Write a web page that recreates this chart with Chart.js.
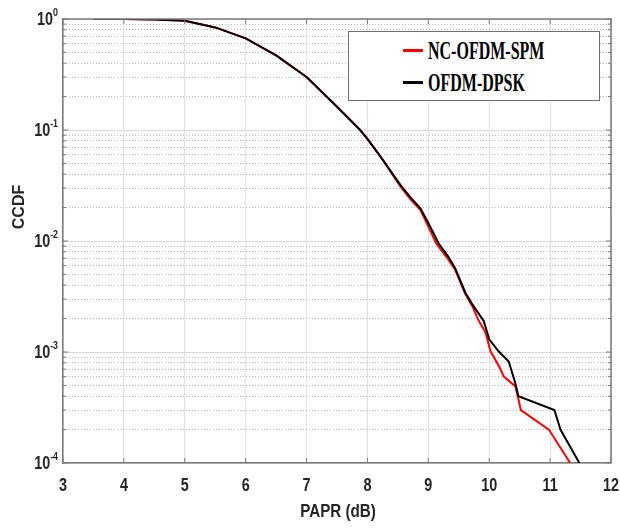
<!DOCTYPE html>
<html>
<head>
<meta charset="utf-8">
<script src="https://cdn.jsdelivr.net/npm/chart.js@4.4.1/dist/chart.umd.min.js"></script>
<style>
  html, body { margin: 0; padding: 0; background: #fff; }
  #wrap { position: relative; width: 620px; height: 530px; }
  #legend {
    position: absolute; left: 348px; top: 31px; width: 252px; height: 70px;
    border: 1.5px solid #6e6e6e; background: #fff; box-sizing: border-box;
  }
  .item { position: absolute; left: 0; height: 26px; }
  .item .swatch { position: absolute; left: 54px; top: 11px; width: 20px; height: 3px; }
  .item .txt {
    position: absolute; left: 79px; top: 0; white-space: nowrap;
    font: bold 25px "Liberation Serif", serif; line-height: 26px; color: #000;
    transform: scaleX(0.64); transform-origin: left center;
  }
</style>
</head>
<body>
<div id="wrap">
  <canvas id="chartCcdf" width="620" height="530"></canvas>
  <div id="legend"></div>
</div>
<script>
// PAPR (dB) / CCDF
const paprSPM = [3.5, 4.0, 4.5, 5.0, 5.5, 6.0, 6.5, 7.0, 7.5, 7.88, 8.0, 8.25, 8.54, 8.7, 8.87, 9.0, 9.13, 9.33, 9.44, 9.6, 9.72, 9.83, 9.94, 10.02, 10.18, 10.24, 10.43, 10.52, 10.98, 11.33];
const ccdfSPM = [1.0, 0.999, 0.99, 0.965, 0.84, 0.67, 0.47, 0.30, 0.162, 0.1, 0.083, 0.054, 0.031, 0.024, 0.019, 0.0135, 0.0095, 0.0068, 0.0055, 0.0034, 0.0026, 0.0019, 0.0015, 0.00102, 0.00071, 0.0006, 0.00049, 0.0003, 0.0002, 0.0001];

const paprDPSK = [3.5, 4.0, 4.5, 5.0, 5.5, 6.0, 6.5, 7.0, 7.5, 7.88, 8.0, 8.25, 8.54, 8.7, 8.87, 9.0, 9.17, 9.33, 9.44, 9.61, 9.72, 9.91, 10.0, 10.15, 10.32, 10.43, 10.48, 11.07, 11.17, 11.48];
const ccdfDPSK = [1.0, 0.999, 0.99, 0.965, 0.84, 0.67, 0.47, 0.30, 0.162, 0.1, 0.083, 0.054, 0.032, 0.025, 0.0197, 0.0145, 0.0095, 0.0072, 0.0057, 0.0034, 0.0027, 0.0019, 0.0013, 0.00102, 0.00082, 0.00052, 0.0004, 0.0003, 0.0002, 0.0001];

const seriesNames = ['NC-OFDM-SPM', 'OFDM-DPSK'];
const yTickExps = [0, -1, -2, -3, -4];
const xRange = [3, 12];
const xTitle = 'PAPR (dB)';
const yTitle = 'CCDF';

const toPoints = (xs, ys) => xs.map((x, i) => ({ x: x, y: ys[i] }));
const majorY = yTickExps.map(e => Math.pow(10, e));
const minorY = [];
yTickExps.slice(1).forEach(e => {
  for (let m = 2; m <= 9; m++) minorY.push(m * Math.pow(10, e));
});

const txtColor = '#262626';
const axisColor = '#7a7a7a';
const sansBold = '"Liberation Sans", Arial, sans-serif';

// texto estreito (a figura original é comprimida na horizontal)
function narrowText(ctx, text, x, y, font, align, sx) {
  ctx.save();
  ctx.font = font;
  ctx.textAlign = align;
  ctx.textBaseline = 'middle';
  ctx.translate(x, y);
  ctx.scale(sx, 1);
  ctx.fillText(text, 0, 0);
  ctx.restore();
}

// moldura, marcas internas e rótulos
const frame = {
  id: 'frame',
  afterDraw(chart) {
    const { ctx, chartArea: a } = chart;
    const xs = chart.scales.x, ys = chart.scales.y;
    ctx.save();
    ctx.strokeStyle = axisColor;
    ctx.lineWidth = 1.5;
    ctx.beginPath();
    ctx.moveTo(a.left, a.top); ctx.lineTo(a.right, a.top); ctx.lineTo(a.right, a.bottom);
    ctx.stroke();
    ctx.lineWidth = 1;
    ctx.beginPath();
    xs.ticks.forEach(t => {
      const px = xs.getPixelForValue(t.value);
      ctx.moveTo(px, a.bottom); ctx.lineTo(px, a.bottom - 5);
      ctx.moveTo(px, a.top); ctx.lineTo(px, a.top + 5);
    });
    majorY.concat(minorY).forEach(v => {
      const py = ys.getPixelForValue(v);
      const len = majorY.includes(v) ? 5 : 3;
      ctx.moveTo(a.left, py); ctx.lineTo(a.left + len, py);
      ctx.moveTo(a.right, py); ctx.lineTo(a.right - len, py);
    });
    ctx.stroke();

    ctx.fillStyle = txtColor;
    // rótulos do eixo x
    xs.ticks.forEach(t => {
      narrowText(ctx, String(t.value), xs.getPixelForValue(t.value), a.bottom + 23,
        'bold 18px ' + sansBold, 'center', 0.8);
    });
    narrowText(ctx, xTitle, (a.left + a.right) / 2 + 1, 512, 'bold 19px ' + sansBold, 'center', 0.8);

    // rótulos 10^n do eixo y
    yTickExps.forEach(e => {
      const py = ys.getPixelForValue(Math.pow(10, e));
      const exp = e === 0 ? '0' : '-' + (-e);
      ctx.font = 'bold 11px ' + sansBold;
      const ew = ctx.measureText(exp).width * 0.8;
      narrowText(ctx, exp, a.left - 5, py - 6, 'bold 11px ' + sansBold, 'right', 0.8);
      narrowText(ctx, '10', a.left - 5 - ew, py + 1, 'bold 18px ' + sansBold, 'right', 0.8);
    });

    ctx.translate(20, 207);
    ctx.rotate(-Math.PI / 2);
    ctx.textAlign = 'center';
    ctx.textBaseline = 'middle';
    ctx.font = 'bold 16px ' + sansBold;
    ctx.fillText(yTitle, 0, 0);
    ctx.restore();
  }
};

const chart = new Chart(document.getElementById('chartCcdf'), {
  type: 'scatter',
  data: {
    datasets: [{
      label: seriesNames[0],
      data: toPoints(paprSPM, ccdfSPM),
      showLine: true,
      borderColor: '#ff0000',
      backgroundColor: '#ff0000',
      borderWidth: 2,
      pointRadius: 0,
      order: 1
    }, {
      label: seriesNames[1],
      data: toPoints(paprDPSK, ccdfDPSK),
      showLine: true,
      borderColor: '#000000',
      backgroundColor: '#000000',
      borderWidth: 2,
      pointRadius: 0,
      order: 0
    }]
  },
  options: {
    responsive: false,
    animation: false,
    layout: { padding: { top: 19, right: 0, left: 0, bottom: 0 } },
    plugins: {
      legend: { display: false },
      tooltip: { enabled: false }
    },
    scales: {
      x: {
        type: 'linear',
        min: xRange[0],
        max: xRange[1],
        afterFit: s => { s.height = 67; s.paddingLeft = 0; s.paddingRight = 0; },
        ticks: { stepSize: 1, display: false },
        grid: { color: '#e2e2e2', lineWidth: 1, drawTicks: false },
        border: { color: axisColor, width: 1.5 }
      },
      y: {
        type: 'logarithmic',
        min: 1e-4,
        max: 1,
        afterBuildTicks: s => { s.ticks = majorY.map(v => ({ value: v })); },
        afterFit: s => { s.width = 63; s.paddingTop = 0; s.paddingBottom = 0; },
        ticks: { display: false },
        grid: { color: '#dadada', lineWidth: 1, drawTicks: false },
        border: { color: axisColor, width: 1.5 }
      },
      yMinor: {
        type: 'logarithmic',
        position: 'right',
        min: 1e-4,
        max: 1,
        afterBuildTicks: s => { s.ticks = minorY.map(v => ({ value: v })); },
        afterFit: s => { s.width = 9; s.paddingTop = 0; s.paddingBottom = 0; },
        ticks: { display: false },
        grid: { color: '#b8b8b8', lineWidth: 1, drawTicks: false },
        border: { display: false, dash: [1, 2] }
      }
    }
  },
  plugins: [frame]
});

// legenda com moldura, montada a partir dos datasets
const legendEl = document.getElementById('legend');
chart.data.datasets.forEach((ds, i) => {
  const row = document.createElement('div');
  row.className = 'item';
  row.style.top = (6 + i * 32) + 'px';
  const sw = document.createElement('span');
  sw.className = 'swatch';
  sw.style.background = ds.borderColor;
  const tx = document.createElement('span');
  tx.className = 'txt';
  tx.textContent = ds.label;
  row.appendChild(sw);
  row.appendChild(tx);
  legendEl.appendChild(row);
});
</script>
</body>
</html>
